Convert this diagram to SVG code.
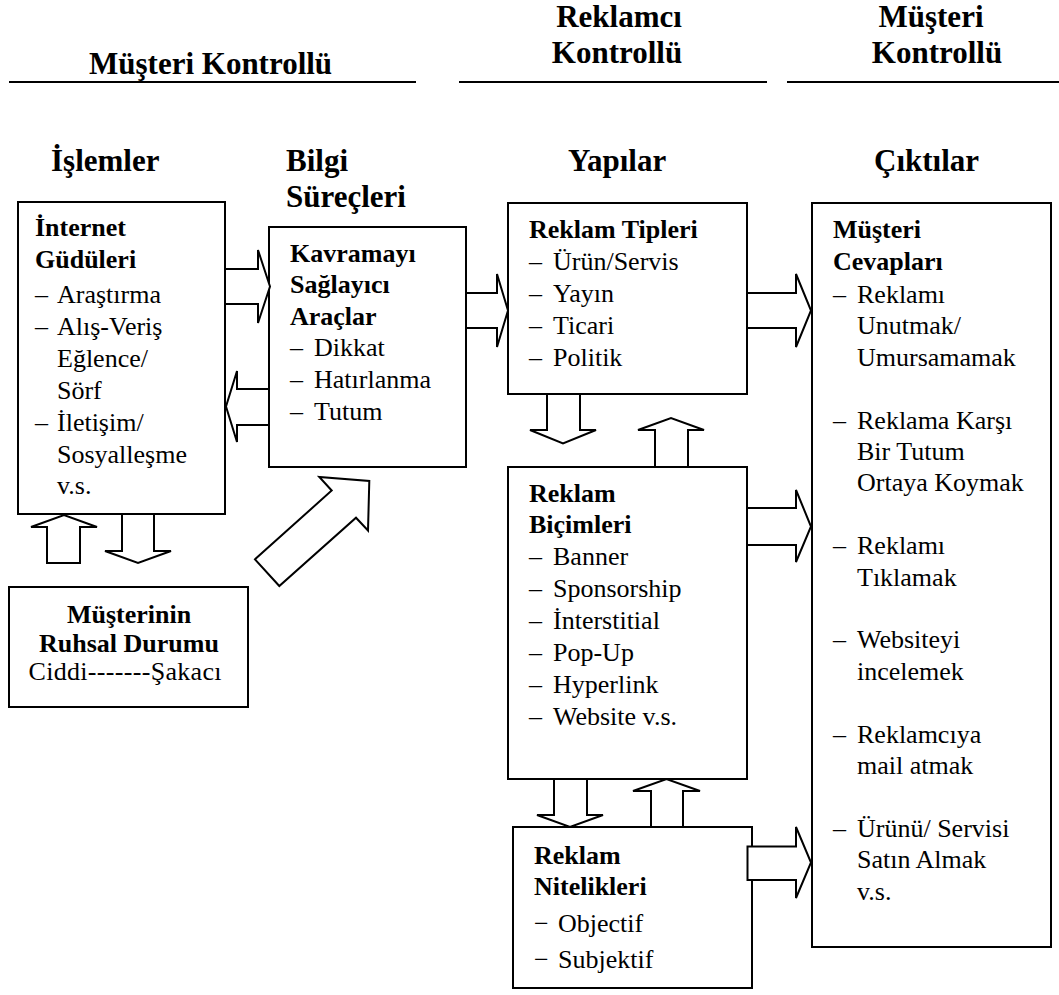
<svg xmlns="http://www.w3.org/2000/svg" width="1059" height="995" viewBox="0 0 1059 995" font-family="'Liberation Serif', 'Times New Roman', 'DejaVu Serif', serif">
  <style>
    .box { fill: #fff; stroke: #000; stroke-width: 2; }
    .arw { fill: #fff; stroke: #000; stroke-width: 2; stroke-linejoin: miter; }
    .rule { stroke: #000; stroke-width: 2; }
    text { fill: #000; }
    .hdr { font-size: 31px; font-weight: bold; }
    .t { font-size: 26px; }
    .b { font-weight: bold; }
    .c { text-anchor: middle; }
  </style>

  <!-- column headings -->
  <g id="headings">
    <text class="hdr" x="89" y="74">Müşteri Kontrollü</text>
    <line class="rule" x1="9" y1="82" x2="416" y2="82"/>
    <text class="hdr c" x="619" y="27">Reklamcı</text>
    <text class="hdr c" x="617" y="63">Kontrollü</text>
    <line class="rule" x1="459" y1="82" x2="767" y2="82"/>
    <text class="hdr c" x="931" y="27">Müşteri</text>
    <text class="hdr c" x="937" y="63">Kontrollü</text>
    <line class="rule" x1="787" y1="82" x2="1059" y2="82"/>

    <text class="hdr" x="51" y="171">İşlemler</text>
    <text class="hdr" x="286" y="171">Bilgi</text>
    <text class="hdr" x="286" y="207">Süreçleri</text>
    <text class="hdr" x="568" y="171">Yapılar</text>
    <text class="hdr" x="874" y="171">Çıktılar</text>
  </g>

  <!-- Internet motives -->
  <g id="internet-gudu">
    <rect class="box" x="18" y="202" width="207" height="312"/>
    <text class="t b" x="35" y="236">İnternet</text>
    <text class="t b" x="35" y="268">Güdüleri</text>
    <text class="t" x="35" y="303">–</text><text class="t" x="57" y="303">Araştırma</text>
    <text class="t" x="35" y="335">–</text><text class="t" x="57" y="335">Alış-Veriş</text>
    <text class="t" x="57" y="367">Eğlence/</text>
    <text class="t" x="57" y="399">Sörf</text>
    <text class="t" x="35" y="431">–</text><text class="t" x="57" y="431">İletişim/</text>
    <text class="t" x="57" y="463">Sosyalleşme</text>
    <text class="t" x="57" y="494">v.s.</text>
  </g>

  <!-- Comprehension tools -->
  <g id="kavrama">
    <rect class="box" x="269" y="227" width="197" height="240"/>
    <text class="t b" x="290" y="262">Kavramayı</text>
    <text class="t b" x="290" y="293">Sağlayıcı</text>
    <text class="t b" x="290" y="325">Araçlar</text>
    <text class="t" x="290" y="356">–</text><text class="t" x="314" y="356">Dikkat</text>
    <text class="t" x="290" y="388">–</text><text class="t" x="314" y="388">Hatırlanma</text>
    <text class="t" x="290" y="420">–</text><text class="t" x="314" y="420">Tutum</text>
  </g>

  <!-- Consumer mood -->
  <g id="ruhsal-durum">
    <rect class="box" x="9" y="587" width="239" height="120"/>
    <text class="t b c" x="129" y="623">Müşterinin</text>
    <text class="t b c" x="129" y="652">Ruhsal Durumu</text>
    <text class="t c" x="125" y="680" textLength="193" lengthAdjust="spacing">Ciddi-------Şakacı</text>
  </g>

  <!-- Ad types -->
  <g id="reklam-tipleri">
    <rect class="box" x="508" y="203" width="239" height="191"/>
    <text class="t b" x="529" y="238">Reklam Tipleri</text>
    <text class="t" x="529" y="270">–</text><text class="t" x="553" y="270">Ürün/Servis</text>
    <text class="t" x="529" y="302">–</text><text class="t" x="553" y="302">Yayın</text>
    <text class="t" x="529" y="334">–</text><text class="t" x="553" y="334">Ticari</text>
    <text class="t" x="529" y="366">–</text><text class="t" x="553" y="366">Politik</text>
  </g>

  <!-- Ad formats -->
  <g id="reklam-bicimleri">
    <rect class="box" x="508" y="467" width="239" height="312"/>
    <text class="t b" x="529" y="502">Reklam</text>
    <text class="t b" x="529" y="533">Biçimleri</text>
    <text class="t" x="529" y="565">–</text><text class="t" x="553" y="565">Banner</text>
    <text class="t" x="529" y="597">–</text><text class="t" x="553" y="597">Sponsorship</text>
    <text class="t" x="529" y="629">–</text><text class="t" x="553" y="629">İnterstitial</text>
    <text class="t" x="529" y="661">–</text><text class="t" x="553" y="661">Pop-Up</text>
    <text class="t" x="529" y="693">–</text><text class="t" x="553" y="693">Hyperlink</text>
    <text class="t" x="529" y="725">–</text><text class="t" x="553" y="725">Website v.s.</text>
  </g>

  <!-- Ad features -->
  <g id="reklam-nitelikleri">
    <rect class="box" x="513" y="827" width="239" height="161"/>
    <text class="t b" x="534" y="864">Reklam</text>
    <text class="t b" x="534" y="895">Nitelikleri</text>
    <text class="t" x="534" y="932">−</text><text class="t" x="558" y="932">Objectif</text>
    <text class="t" x="534" y="968">−</text><text class="t" x="558" y="968">Subjektif</text>
  </g>

  <!-- Consumer responses -->
  <g id="musteri-cevaplari">
    <rect class="box" x="812" y="203" width="239" height="744"/>
    <text class="t b" x="833" y="238">Müşteri</text>
    <text class="t b" x="833" y="270">Cevapları</text>
    <text class="t" x="833" y="303">–</text><text class="t" x="857" y="303">Reklamı</text>
    <text class="t" x="857" y="334.4">Unutmak/</text>
    <text class="t" x="857" y="365.8">Umursamamak</text>
    <text class="t" x="833" y="428.6">–</text><text class="t" x="857" y="428.6">Reklama Karşı</text>
    <text class="t" x="857" y="460">Bir Tutum</text>
    <text class="t" x="857" y="491.4">Ortaya Koymak</text>
    <text class="t" x="833" y="554.2">–</text><text class="t" x="857" y="554.2">Reklamı</text>
    <text class="t" x="857" y="585.6">Tıklamak</text>
    <text class="t" x="833" y="648.4">–</text><text class="t" x="857" y="648.4">Websiteyi</text>
    <text class="t" x="857" y="679.8">incelemek</text>
    <text class="t" x="833" y="742.6">–</text><text class="t" x="857" y="742.6">Reklamcıya</text>
    <text class="t" x="857" y="774">mail atmak</text>
    <text class="t" x="833" y="836.8">–</text><text class="t" x="857" y="836.8">Ürünü/ Servisi</text>
    <text class="t" x="857" y="868.2">Satın Almak</text>
    <text class="t" x="857" y="899.6">v.s.</text>
  </g>

  <!-- block arrows -->
  <g id="connectors">
    <polygon class="arw" points="225,269 258,269 258,250 270,286.5 258,323 258,304 225,304"/>
    <polygon class="arw" points="269,389 237,389 237,371 226,406.5 237,442 237,425 269,425"/>
    <polygon class="arw" points="466,293 497,293 497,274 508,310.5 497,347 497,328 466,328"/>
    <polygon class="arw" points="747,293 796,293 796,274 811,310.5 796,347 796,328 747,328"/>
    <polygon class="arw" points="747,508 796,508 796,490 811,526.5 796,562 796,545 747,545"/>
    <polygon class="arw" points="747.5,846.5 796,846.5 796,827 811,862.5 796,898 796,880 747.5,880"/>
    <polygon class="arw" points="547,394 547,430 530,430 563,443.5 596,430 580,430 580,394"/>
    <polygon class="arw" points="655,467 655,430 638,430 671,418 704,430 688,430 688,467"/>
    <polygon class="arw" points="554,779 554,815 537,815 570,827 603,815 587,815 587,779"/>
    <polygon class="arw" points="651,827 651,791 633,791 666.5,779 700,791 683,791 683,827"/>
    <polygon class="arw" points="47,563 47,527 31,527 64,515 97,527 80,527 80,563"/>
    <polygon class="arw" points="122,514 122,551 105,551 138,563 171,551 154,551 154,514"/>
    <polygon class="arw" points="279.3,586 255,559.3 331.7,490.5 319.3,477 369.3,481 368,530.5 356,517.7"/>
  </g>
</svg>
